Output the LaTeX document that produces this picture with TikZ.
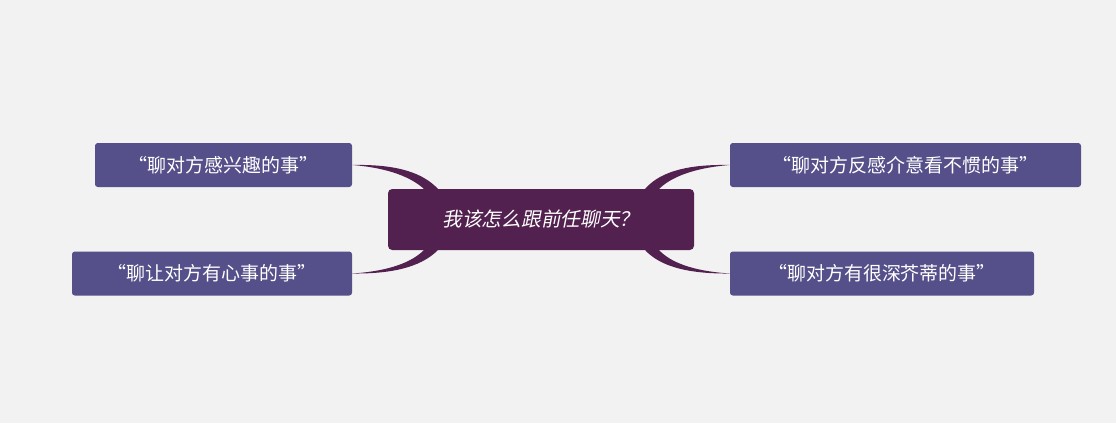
\documentclass[tikz,border=0pt]{standalone}
\usepackage{fontspec}
\newfontfamily\cjk{Noto Sans CJK SC}
\newfontfamily\cjkit[FakeSlant=0.2]{Noto Sans CJK SC}
\definecolor{bgc}{HTML}{F2F2F2}
\definecolor{rootc}{HTML}{53214F}
\definecolor{leafc}{HTML}{55508A}

\begin{document}
\begin{tikzpicture}[x=0.025cm,y=-0.025cm]

\tikzstyle{root} = [rectangle, rounded corners=3pt, fill=rootc, text=white, minimum width=306*0.025cm, minimum height=61*0.025cm, font=\cjkit\fontsize{14}{16}\selectfont]
\tikzstyle{leaf} = [rectangle, rounded corners=2pt, fill=leafc, text=white, minimum height=44*0.025cm, font=\cjk\fontsize{13.5}{16}\selectfont]
\tikzstyle{twig} = [fill=rootc]

\fill[bgc] (0,0) rectangle (1116,423);
\useasboundingbox (0,0) rectangle (1116,423);

\node (root) [root] at (541,219.5) {我该怎么跟前任聊天？};
\node (tl) [leaf, minimum width=257*0.025cm] at (223.5,165) {“聊对方感兴趣的事”};
\node (bl) [leaf, minimum width=280*0.025cm] at (212,273.5) {“聊让对方有心事的事”};
\node (tr) [leaf, minimum width=351*0.025cm] at (905.5,165) {“聊对方反感介意看不惯的事”};
\node (br) [leaf, minimum width=304*0.025cm] at (882,273.5) {“聊对方有很深芥蒂的事”};

\fill[twig] (tl.east) .. controls (400,164) and (424,174) .. (438,189) -- (424,189) .. controls (412,178) and (390,168) .. (tl.east) -- cycle;
\fill[twig] (bl.east) .. controls (400,274) and (424,264) .. (438,250) -- (424,250) .. controls (412,262) and (390,271) .. (bl.east) -- cycle;
\fill[twig] (tr.west) .. controls (682,164) and (658,174) .. (645,189) -- (659,189) .. controls (670,178) and (692,168) .. (tr.west) -- cycle;
\fill[twig] (br.west) .. controls (682,274) and (658,264) .. (645,250) -- (659,250) .. controls (670,262) and (692,271) .. (br.west) -- cycle;
\end{tikzpicture}
\end{document}
